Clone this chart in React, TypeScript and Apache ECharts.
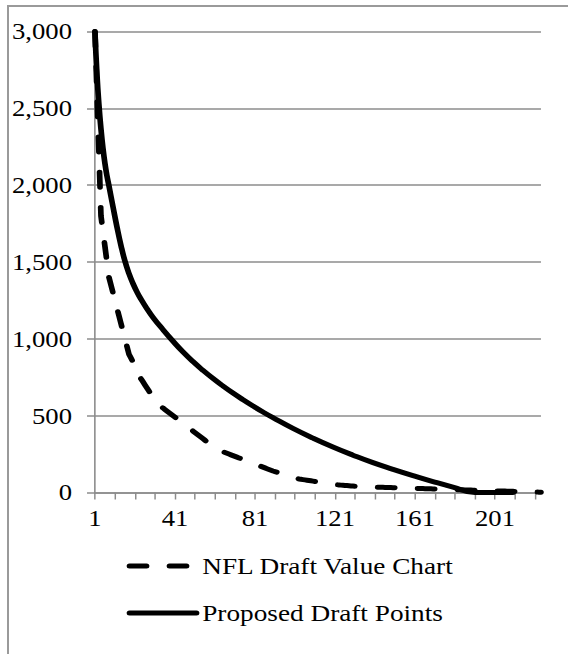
import React, { useEffect, useRef } from "react";
import * as echarts from "echarts";

// Draft picks 1..224 (category axis)
const pickCategories: string[] = Array.from({ length: 224 }, (_, i) => String(i + 1));

// NFL Draft Value Chart (value per pick, picks 1..224)
const nflValues: number[] = [
  3000, 2600, 2200, 1800, 1700, 1600, 1500, 1400, 1350, 1300,
  1250, 1200, 1150, 1100, 1050, 1000, 950, 900, 875, 850,
  800, 780, 760, 740, 720, 700, 680, 660, 640, 620,
  600, 590, 580, 560, 550, 540, 530, 520, 510, 500,
  490, 480, 470, 460, 450, 440, 430, 420, 410, 400,
  390, 380, 370, 360, 350, 340, 330, 320, 310, 300,
  292, 284, 276, 270, 265, 260, 255, 250, 245, 240,
  235, 230, 225, 220, 215, 210, 205, 200, 195, 190,
  185, 180, 175, 170, 165, 160, 155, 150, 145, 140,
  136, 132, 128, 124, 120, 116, 112, 108, 104, 100,
  96, 92, 88, 86, 84, 82, 80, 78, 76, 74,
  72, 70, 68, 66, 64, 62, 60, 58, 56, 54,
  52, 50, 49, 48, 47, 46, 45, 44, 43, 42,
  41, 40, 39.5, 39, 38.5, 38, 37.5, 37, 36.5, 36,
  35.5, 35, 34.5, 34, 33.5, 33, 32.6, 32.2, 31.8, 31.4,
  31, 30.6, 30.2, 29.8, 29.4, 29, 28.6, 28.2, 27.8, 27.4,
  27, 26.6, 26.2, 25.8, 25.4, 25, 24.6, 24.2, 23.8, 23.4,
  23, 22.6, 22.2, 21.8, 21.4, 21, 20.6, 20.2, 19.8, 19.4,
  19, 18.6, 18.2, 17.8, 17.4, 17, 16.6, 16.2, 15.8, 15.4,
  15, 14.6, 14.2, 13.8, 13.4, 13, 12.6, 12.2, 11.8, 11.4,
  11, 10.6, 10.2, 9.8, 9.4, 9, 8.6, 8.2, 7.8, 7.4,
  7, 6.6, 6.2, 5.8, 5.4, 5, 4.6, 4.2, 3.8, 3.4,
  3, 2.6, 2.3, 2,
];

// Proposed Draft Points, read at sampled picks
const proposedPicks: number[] = [
  1, 2, 3, 4, 5, 6, 7, 8, 10, 12, 14, 16, 18, 20, 22, 24, 27, 30, 35, 40,
  45, 50, 55, 60, 65, 70, 75, 80, 85, 90, 100, 110, 120, 130, 140, 150,
  160, 170, 180, 191, 210,
];
const proposedValues: number[] = [
  3000, 2720, 2520, 2365, 2240, 2140, 2060, 1995, 1860, 1728, 1608, 1505, 1425, 1360, 1305, 1258, 1196, 1140, 1060, 985,
  915, 852, 795, 742, 693, 647, 604, 563, 524, 487, 417, 354, 296, 243, 194, 151,
  110, 71, 35, 0, 0,
];

const yTicks = { min: 0, max: 3000, interval: 500 };

const seriesNames = ["NFL Draft Value Chart", "Proposed Draft Points"];

const FONT = "Liberation Serif";
const GRAY = "#8c8c8c";
const STRETCH = 1.136; // reference picture is stretched horizontally
const BASE_W = 500;

export default function App() {
  const ref = useRef<HTMLDivElement>(null);

  useEffect(() => {
    if (!ref.current) return;
    const chart = echarts.init(ref.current, undefined, { renderer: "svg" });
    const dash = [15, 20.2];
    chart.setOption({
      animation: false,
      backgroundColor: "transparent",
      textStyle: { fontFamily: FONT, color: "#000" },
      grid: { left: 83.6, top: 31.5, right: 23.8, bottom: 161.5, containLabel: false },
      legend: {
        orient: "vertical",
        left: 106.5,
        top: 549,
        itemWidth: 59,
        itemHeight: 14,
        itemGap: 23,
        itemStyle: { opacity: 0 },
        lineStyle: { width: 5, cap: "round", join: "round" },
        textStyle: { fontFamily: FONT, fontSize: 24, color: "#000" },
        data: seriesNames,
      },
      xAxis: {
        type: "category",
        data: pickCategories,
        boundaryGap: false,
        axisLine: { show: true, lineStyle: { color: GRAY, width: 1.5 } },
        axisTick: { show: true, interval: 9, length: 7, lineStyle: { color: GRAY, width: 1.3 } },
        axisLabel: {
          interval: 39,
          margin: 14,
          fontFamily: FONT,
          fontSize: 23.5,
          color: "#000",
        },
        splitLine: { show: false },
      },
      yAxis: {
        type: "value",
        min: yTicks.min,
        max: yTicks.max,
        interval: yTicks.interval,
        axisLine: { show: true, lineStyle: { color: GRAY, width: 1.4 } },
        axisTick: { show: true, length: 7, lineStyle: { color: GRAY, width: 1.5 } },
        axisLabel: {
          margin: 20.2,
          fontFamily: FONT,
          fontSize: 23.5,
          color: "#000",
          formatter: (v: number) => v.toLocaleString("en-US"),
        },
        splitLine: { show: true, lineStyle: { color: GRAY, width: 1.5 } },
      },
      series: [
        {
          name: seriesNames[0],
          type: "line",
          data: nflValues,
          symbol: "none",
          lineStyle: { color: "#000", width: 5, type: dash, cap: "round", join: "round" },
          itemStyle: { color: "#000" },
          z: 2,
        },
        {
          name: seriesNames[1],
          type: "line",
          data: proposedPicks.map((p, i) => [p - 1, proposedValues[i]]),
          symbol: "none",
          smooth: 0.5,
          lineStyle: { color: "#000", width: 5, type: "solid", cap: "round", join: "round" },
          itemStyle: { color: "#000" },
          z: 3,
        },
      ],
    });
    return () => chart.dispose();
  }, []);

  return (
    <div style={{ position: "fixed", left: 0, top: 0, width: 568, height: 654, overflow: "hidden", background: "#fff" }}>
      <div
        ref={ref}
        style={{
          position: "absolute",
          left: 0,
          top: 0,
          width: BASE_W,
          height: 654,
          transform: `scaleX(${STRETCH})`,
          transformOrigin: "0 0",
        }}
      />
      <div
        style={{
          position: "absolute",
          left: 7,
          top: 5,
          width: 700,
          height: 800,
          borderLeft: "2px solid #9a9a9a",
          borderTop: "2px solid #9a9a9a",
          pointerEvents: "none",
        }}
      />
    </div>
  );
}
